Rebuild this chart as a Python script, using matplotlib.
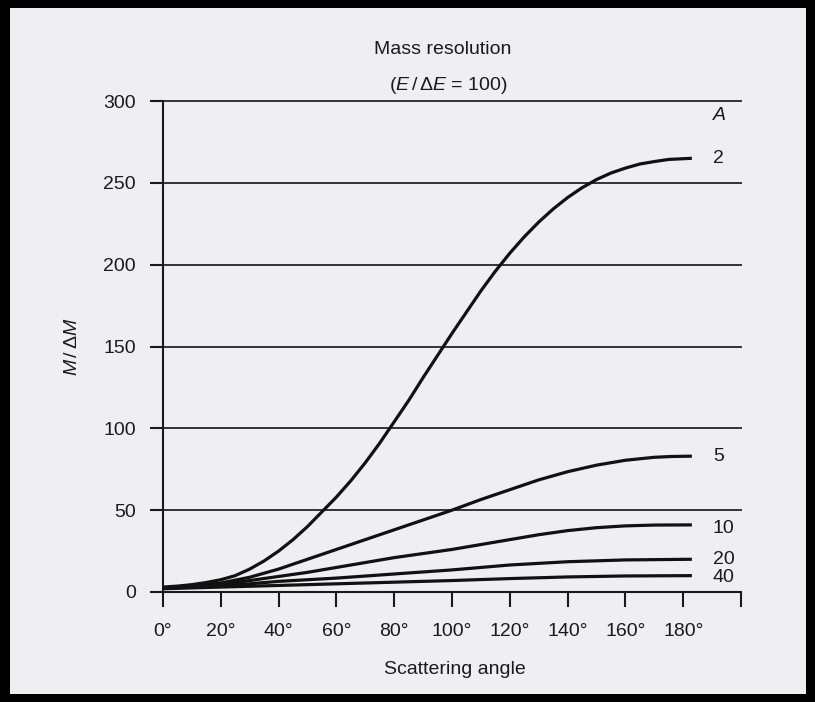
import matplotlib
matplotlib.use("Agg")
import matplotlib.pyplot as plt
from matplotlib.patches import Rectangle

plt.rcParams["font.family"] = ["Liberation Sans", "DejaVu Sans"]
plt.rcParams["mathtext.fontset"] = "custom"
plt.rcParams["mathtext.rm"] = "Liberation Sans"
plt.rcParams["mathtext.it"] = "Liberation Sans:italic"

# M/dM vs scattering angle for E/dE = 100, one curve per target mass A
ang_2 = [0, 5, 10, 15, 20, 25, 30, 35, 40, 45, 50, 55, 60, 65, 70, 75, 80, 85, 90, 95, 100,
         105, 110, 115, 120, 125, 130, 135, 140, 145, 150, 155, 160, 165, 170, 175, 183]
res_2 = [3, 3.6, 4.5, 5.8, 7.5, 10, 14, 19, 25, 32, 40, 49, 58, 68, 79, 91, 104, 117, 131, 144.5, 158,
         171, 184, 196, 207, 217, 226, 234, 241, 247, 252, 256, 259, 261.5, 263, 264.3, 265]

ang_5 = [0, 10, 20, 30, 40, 50, 60, 70, 80, 90, 100, 110, 120, 130, 140, 150, 160, 170, 176, 183]
res_5 = [2.5, 3.5, 5.5, 9, 14, 20, 26, 32, 38, 44, 50, 56.5, 62.5, 68.5, 73.5, 77.5, 80.5, 82.3, 82.8, 83]

ang_10 = [0, 10, 20, 30, 40, 50, 60, 70, 80, 90, 100, 110, 120, 130, 140, 150, 160, 170, 183]
res_10 = [2.5, 3.2, 4.5, 7, 9.5, 12, 15, 18, 21, 23.5, 26, 29, 32, 35, 37.5, 39.3, 40.4, 40.9, 41]

ang_20 = [0, 20, 30, 40, 60, 80, 100, 120, 140, 160, 183]
res_20 = [2.3, 3.8, 5, 6.5, 8.5, 11, 13.5, 16.5, 18.5, 19.6, 20]

ang_40 = [0, 20, 30, 40, 60, 80, 100, 120, 140, 160, 183]
res_40 = [2, 3, 3.5, 4, 5, 6, 7, 8.2, 9.2, 9.8, 10]

masses = ["2", "5", "10", "20", "40"]
label_y = [265, 83, 38.5, 20, 9]
curves = [(ang_2, res_2), (ang_5, res_5), (ang_10, res_10), (ang_20, res_20), (ang_40, res_40)]

xticks = list(range(0, 201, 20))
xticklabels = [f"{t}°" if t <= 180 else "" for t in xticks]
yticks = list(range(0, 301, 50))

ink = "#1a1a1a"
fig = plt.figure(figsize=(8.15, 7.02), dpi=100, facecolor="black")
fig.patches.append(Rectangle((10 / 815, 8 / 702), 796 / 815, 686 / 702, transform=fig.transFigure,
                             facecolor="#efeff3", edgecolor="none", zorder=-1))
ax = fig.add_axes([163 / 815, 1 - 592 / 702, 578 / 815, 491 / 702])
ax.set_zorder(1)
ax.set_facecolor("none")

for (a, r) in curves:
    ax.plot(a, r, color="#111111", lw=2.3, solid_capstyle="butt", solid_joinstyle="round", zorder=3)

for y in yticks[1:]:
    ax.axhline(y, color="#333333", lw=1.4, clip_on=False, zorder=2)

ax.set_xlim(0, 200)
ax.set_ylim(0, 300)
ax.set_xticks(xticks)
ax.set_xticklabels(xticklabels)
ax.set_yticks(yticks)
for s in ("top", "right"):
    ax.spines[s].set_visible(False)
for s in ("left", "bottom"):
    ax.spines[s].set_color(ink)
    ax.spines[s].set_linewidth(1.5)
ax.tick_params(axis="x", direction="out", length=11, width=1.5, color=ink, pad=11, labelsize=14, labelcolor=ink)
ax.tick_params(axis="y", direction="out", length=9.5, width=1.5, color=ink, pad=10, labelsize=14, labelcolor=ink)

ax.text(190.3, 291, "A", fontsize=14, style="italic", color=ink, va="center", ha="left")
for m, yv in zip(masses, label_y):
    ax.text(190.3, yv, m, fontsize=14, color=ink, va="center", ha="left")

ax.set_xlabel("Scattering angle", fontsize=14, color=ink)
ax.xaxis.set_label_coords(0.505, -0.141)
ax.set_ylabel(r"$M\,/\,\Delta M$", fontsize=14, color=ink)
ax.yaxis.set_label_coords(-0.142, 0.5)

fig.text(443 / 815, 1 - 49 / 702, "Mass resolution", fontsize=14, color=ink, ha="center", va="center")
fig.text(448 / 815, 1 - 85 / 702, r"($E\,/\,\Delta E$ = 100)", fontsize=14, color=ink, ha="center", va="center")

fig.savefig("out.png", dpi=100, facecolor=fig.get_facecolor())
